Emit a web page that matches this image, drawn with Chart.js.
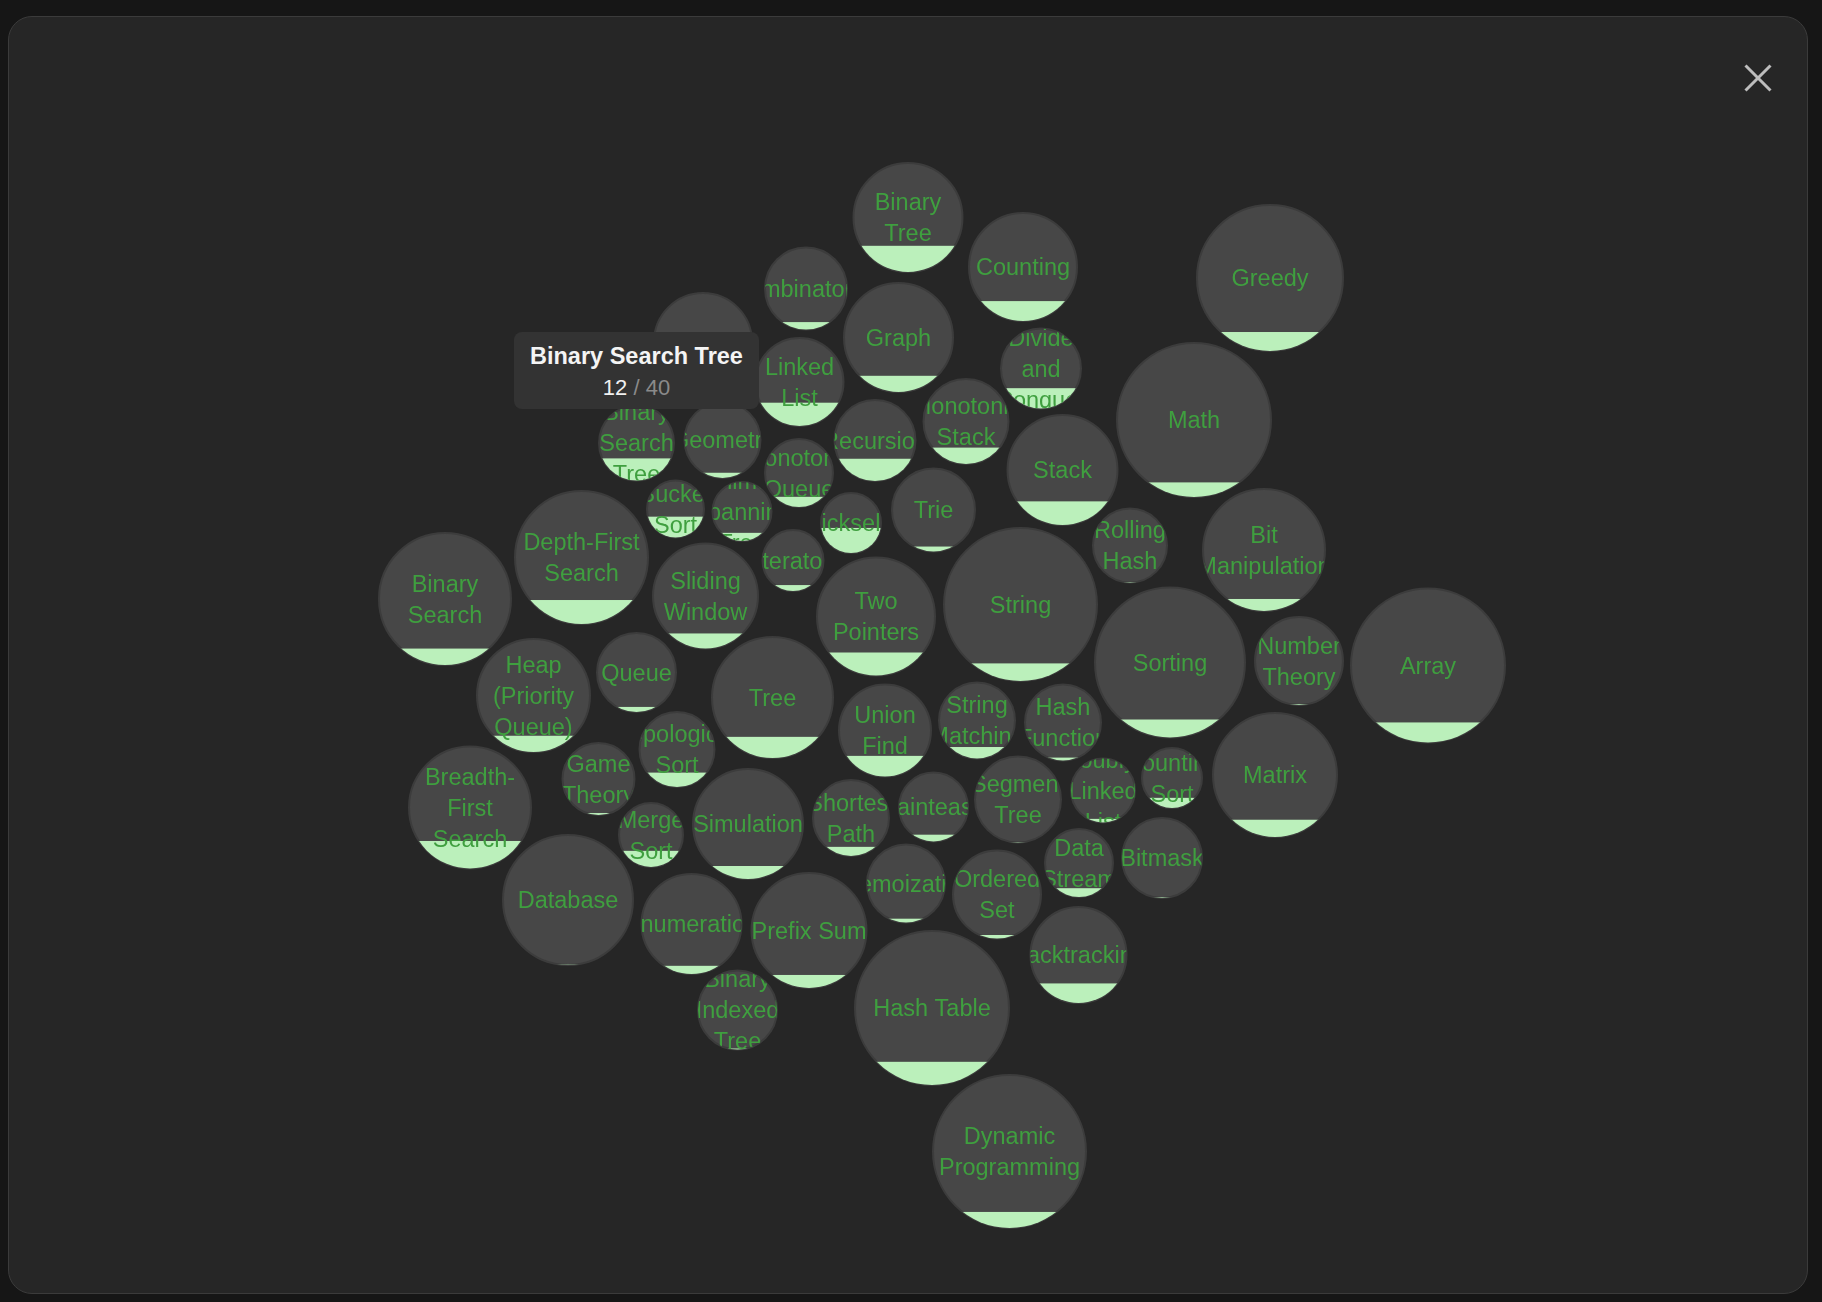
<!DOCTYPE html>
<html>
<head>
<meta charset="utf-8">
<title>Topic bubbles</title>
<script src="https://cdn.jsdelivr.net/npm/chart.js@4.4.1/dist/chart.umd.min.js"></script>
<style>
  html, body { margin: 0; padding: 0; width: 1822px; height: 1302px; overflow: hidden; background: #161616; }
  #panel { position: absolute; left: 8px; top: 16px; width: 1800px; height: 1278px; box-sizing: border-box;
           background: #262626; border: 1.5px solid #3b3b3b; border-radius: 24px; }
  #chart { position: absolute; left: 0; top: 0; }
  #close { position: absolute; left: 1744px; top: 64px; width: 28px; height: 28px; }
  #tip { position: absolute; left: 0; top: 0; display: none; background: #333333; border-radius: 8px; padding: 0 16px 8px 16px;
         box-sizing: border-box; text-align: center; white-space: nowrap; pointer-events: none;
         font-family: "Liberation Sans", Arial, sans-serif; }
  #tip .t { font-weight: bold; font-size: 23.5px; line-height: 28px; margin-top: 10px; color: #f4f4f4; }
  #tip .b { font-size: 22px; line-height: 26px; margin-top: 5px; color: #8a8a8a; }
  #tip .b .s { color: #f0f0f0; }
</style>
</head>
<body>
<div id="panel"></div>
<canvas id="chart" width="1822" height="1302"></canvas>
<svg id="close" viewBox="0 0 28 28"><line x1="1.5" y1="1.5" x2="26.5" y2="26.5" stroke="#bdbdbd" stroke-width="3"/><line x1="26.5" y1="1.5" x2="1.5" y2="26.5" stroke="#bdbdbd" stroke-width="3"/></svg>
<div id="tip"></div>
<script>
// ---- data ----
const topics = [
  'Binary Tree','Counting','Combinatorics','Graph','Divide and Conquer','Linked List','Monotonic Stack',
  'Recursion','Stack','Monotonic Queue','Trie','Quickselect','Greedy','Math','Bit Manipulation','Design',
  'Binary Search Tree','Geometry','Bucket Sort','Minimum Spanning Tree','Depth-First Search','Binary Search',
  'Sliding Window','Heap (Priority Queue)','Queue','Topological Sort','Game Theory','Breadth-First Search',
  'Merge Sort','Tree','Simulation','Database','Iterator','Two Pointers','String','Rolling Hash','Union Find',
  'String Matching','Hash Function','Shortest Path','Brainteaser','Segment Tree','Doubly-Linked List',
  'Data Stream','Bitmask','Counting Sort','Sorting','Number Theory','Array','Matrix','Enumeration',
  'Prefix Sum','Binary Indexed Tree','Memoization','Ordered Set','Backtracking','Hash Table','Dynamic Programming'
];
// bubble centres in layout units (origin at the middle of the view, y up)
const layoutX = [
  -3, 112, -105, -12.5, 130, -111.5, 55,
  -36, 151.5, -112, 22.5, -60, 359, 283, 353, -208,
  -274.5, -188.5, -235.5, -169, -329.5, -466,
  -205.5, -377.5, -274.5, -234, -312.5, -441,
  -260, -138.5, -163, -343, -118, -35, 109.5, 219, -26,
  66, 152, -60, 22.5, 107, 192,
  168, 251, 261, 259, 388, 517, 364, -219.5,
  -102, -173.5, -5, 86, 167.5, 21, 98.5
];
const layoutY = [
  433.5, 384, 362.5, 313.5, 282.5, 269, 229.5,
  210.5, 181, 178, 141, 128, 373, 231, 101, 309,
  208, 211, 142, 139.5, 93.5, 52,
  55, -44.5, -21.5, -98.5, -128, -156.5,
  -184, -46.5, -173, -249, 90.5, 34.5, 46.5, 105.5, -79.5,
  -69.5, -71.5, -167, -156, -148.5, -139.5,
  -212, -207, -127, -11.5, -10, -14.5, -124, -273,
  -279.5, -359, -232.5, -243.5, -304, -357, -500.5
];
// bubble radius in layout units
const bubbleSize = [
  55.5, 55, 42, 55.5, 41, 45, 43.5,
  41.5, 56, 35, 42.5, 31, 74, 78, 62, 50,
  38.5, 39, 29.5, 30.5, 67.5, 67,
  53.5, 57.5, 40.5, 38.5, 37, 62,
  33, 61.5, 56, 66, 31.5, 60, 77.5, 38, 47,
  39, 39, 39, 35.5, 44, 33,
  35, 41, 31, 76, 45, 78, 63, 51,
  58.5, 40.5, 40, 45, 49, 78, 77.5
];
// share of problems solved (filled height / diameter)
const solvedShare = [
  0.245, 0.19, 0.10, 0.155, 0.26, 0.27, 0.20,
  0.28, 0.22, 0.16, 0.07, 0.42, 0.135, 0.10, 0.105, 0.10,
  0.30, 0.08, 0.37, 0.15, 0.185, 0.13,
  0.15, 0.15, 0.075, 0.20, 0.04, 0.23,
  0.26, 0.18, 0.125, 0.01, 0.11, 0.20, 0.12, 0.02, 0.23,
  0.16, 0.05, 0.13, 0.11, 0.015, 0.07,
  0.14, 0.02, 0.18, 0.125, 0.02, 0.135, 0.145, 0.09,
  0.12, 0.025, 0.06, 0.05, 0.21, 0.155, 0.11
];
const highlightTopic = 'Binary Search Tree';
const highlightSolved = 12;
const highlightTotal = 40;

// ---- styling ----
const FONT_SIZE = 23.5;
const LINE_H = 31;
const LABEL_FONT = FONT_SIZE + 'px "Liberation Sans", Arial, sans-serif';
const BORDER_W = 2;
const X_MIN = -911, X_MAX = 911, Y_MIN = -651, Y_MAX = 651;

function sizeToPx(chart, v) {
  const s = chart.scales && chart.scales.x;
  let px = s ? Math.abs(s.getPixelForValue(v) - s.getPixelForValue(0)) : NaN;
  if (!Number.isFinite(px)) px = v * chart.width / (X_MAX - X_MIN);
  return px;
}
function radiusOpt(c) {
  if (c.dataIndex === undefined) return 0;
  return Math.max(0, sizeToPx(c.chart, bubbleSize[c.dataIndex]) - BORDER_W / 2);
}

function wrapLabel(ctx, text, maxW) {
  const words = text.split(' ');
  const tokens = [];
  words.forEach((w, wi) => {
    const parts = w.split(/(?<=-)/);
    parts.forEach((p, pi) => tokens.push({ t: p, space: pi === 0 && wi > 0 }));
  });
  const lines = [];
  let cur = '';
  tokens.forEach(tok => {
    if (cur === '') { cur = tok.t; return; }
    const cand = cur + (tok.space ? ' ' : '') + tok.t;
    if (ctx.measureText(cand).width <= maxW) cur = cand;
    else { lines.push(cur); cur = tok.t; }
  });
  if (cur) lines.push(cur);
  return lines;
}

const fillAndLabels = {
  id: 'fillAndLabels',
  afterDatasetsDraw(chart) {
    const ctx = chart.ctx;
    const meta = chart.getDatasetMeta(0);
    meta.data.forEach((el, i) => {
      const rc = el.options.radius;
      const r = rc + BORDER_W / 2;
      if (!Number.isFinite(rc) || rc <= 0) return;
      ctx.save();
      ctx.beginPath();
      ctx.arc(el.x, el.y, rc, 0, Math.PI * 2);
      ctx.clip();
      const h = solvedShare[i] * 2 * r;
      ctx.fillStyle = '#bbf0bb';
      ctx.fillRect(el.x - r, el.y + r - h, 2 * r, h);
      ctx.font = LABEL_FONT;
      ctx.fillStyle = '#3f9f3f';
      ctx.textAlign = 'center';
      ctx.textBaseline = 'alphabetic';
      const lines = wrapLabel(ctx, topics[i], 2 * r + 1);
      const n = lines.length;
      lines.forEach((ln, k) => {
        const cy = el.y + (k - (n - 1) / 2) * LINE_H;
        ctx.fillText(ln, el.x, cy + 0.358 * FONT_SIZE);
      });
      ctx.restore();
    });
  }
};

function externalTip({ chart, tooltip }) {
  const tip = document.getElementById('tip');
  if (!tooltip.dataPoints || !tooltip.dataPoints.length) { tip.style.display = 'none'; return; }
  const dp = tooltip.dataPoints[0];
  const i = dp.dataIndex;
  const el = dp.element;
  const name = topics[i];
  let solved = '', total = '';
  if (name === highlightTopic) { solved = highlightSolved; total = highlightTotal; }
  tip.innerHTML = '<div class="t"></div><div class="b"><span class="s"></span> / <span class="o"></span></div>';
  tip.querySelector('.t').textContent = name;
  tip.querySelector('.s').textContent = solved;
  tip.querySelector('.o').textContent = total;
  tip.style.display = 'block';
  const w = tip.offsetWidth, hgt = tip.offsetHeight;
  const r = el.options.radius + BORDER_W / 2;
  tip.style.left = (chart.canvas.offsetLeft + el.x - w / 2) + 'px';
  tip.style.top = (chart.canvas.offsetTop + el.y - r + 4.5 - hgt) + 'px';
}

const chart = new Chart(document.getElementById('chart'), {
  type: 'scatter',
  data: {
    labels: topics,
    datasets: [{
      label: 'Topics',
      data: topics.map((t, i) => ({ x: layoutX[i], y: layoutY[i] })),
      showLine: false,
      pointStyle: 'circle',
      pointBackgroundColor: '#474747',
      pointBorderColor: '#3c3c3c',
      pointBorderWidth: BORDER_W,
      pointHoverBackgroundColor: '#474747',
      pointHoverBorderColor: '#3c3c3c',
      pointHoverBorderWidth: BORDER_W,
      pointRadius: radiusOpt,
      pointHoverRadius: radiusOpt,
      pointHitRadius: 0,
      clip: false
    }]
  },
  options: {
    responsive: false,
    maintainAspectRatio: false,
    devicePixelRatio: 1,
    animation: false,
    events: [],
    layout: { padding: 0, autoPadding: false },
    scales: {
      x: { type: 'linear', min: X_MIN, max: X_MAX, display: false },
      y: { type: 'linear', min: Y_MIN, max: Y_MAX, display: false }
    },
    plugins: {
      legend: { display: false },
      tooltip: { enabled: false, external: externalTip }
    }
  },
  plugins: [fillAndLabels]
});

const hi = topics.indexOf(highlightTopic);
const hiEl = chart.getDatasetMeta(0).data[hi];
chart.tooltip.setActiveElements([{ datasetIndex: 0, index: hi }], { x: hiEl.x, y: hiEl.y });
chart.update();
</script>
</body>
</html>
